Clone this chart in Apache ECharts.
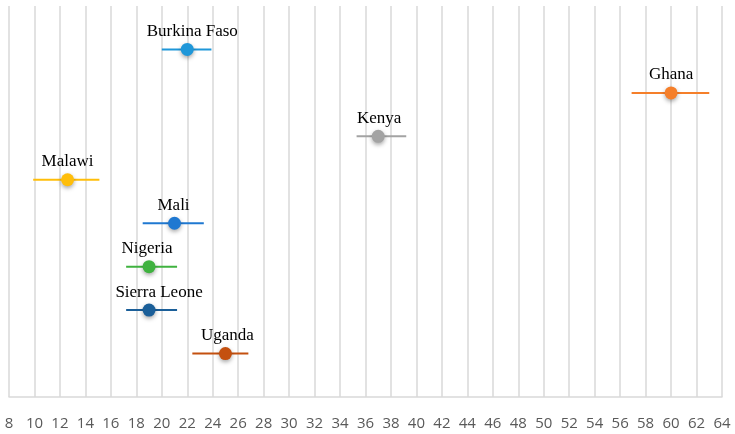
<!DOCTYPE html>
<html>
<head>
<meta charset="utf-8">
<script src="https://cdn.jsdelivr.net/npm/echarts@6/dist/echarts.min.js"></script>
<style>html,body{margin:0;padding:0;background:#fff;}#chart{width:735px;height:434px;}</style>
</head>
<body>
<div id="chart"></div>
<script>
const countries = ['Burkina Faso', 'Ghana', 'Kenya', 'Malawi', 'Mali', 'Nigeria', 'Sierra Leone', 'Uganda'];
const values = [22.0, 60.0, 37.0, 12.6, 21.0, 19.0, 19.0, 25.0];
const lows = [20.0, 56.9, 35.3, 9.9, 18.5, 17.2, 17.2, 22.4];
const highs = [23.9, 63.0, 39.2, 15.1, 23.3, 21.2, 21.2, 26.8];
const rows = [8, 7, 6, 5, 4, 3, 2, 1];
const xMin = 8, xMax = 64, xStep = 2;

const colors = ['#1f97d9', '#f57f2a', '#a3a3a3', '#ffbe0a', '#1f78d1', '#3fb23f', '#1b5f99', '#c4500f'];
const labelOffsets = [[5, 0], [0, 0], [1, 0], [0, 0], [-1, 0], [-2, 0], [10, 0], [2, 0]];

const series = [];
countries.forEach((c, i) => {
  series.push({
    type: 'line',
    name: c + ' CI',
    data: [[lows[i], rows[i]], [highs[i], rows[i]]],
    symbol: 'none',
    lineStyle: { color: colors[i], width: 2 },
    silent: true,
    z: 2
  });
});
countries.forEach((c, i) => {
  series.push({
    type: 'scatter',
    name: c,
    data: [[values[i], rows[i]]],
    symbol: 'circle',
    symbolSize: 13,
    itemStyle: {
      color: colors[i],
      opacity: 1,
      shadowBlur: 4,
      shadowColor: 'rgba(0,0,0,0.35)',
      shadowOffsetY: 2
    },
    label: {
      show: true,
      position: 'top',
      distance: 3,
      offset: labelOffsets[i],
      formatter: c,
      color: '#000',
      fontFamily: 'Liberation Serif',
      fontSize: 17
    },
    z: 3
  });
});

const chart = echarts.init(document.getElementById('chart'));
chart.setOption({
  animation: false,
  grid: { left: 9, right: 13, top: 6, bottom: 37, containLabel: false },
  xAxis: {
    type: 'value',
    min: xMin, max: xMax, interval: xStep,
    axisLine: { show: true, lineStyle: { color: '#d9d9d9', width: 1.5 } },
    axisTick: { show: false },
    axisLabel: { color: '#595959', fontFamily: 'Open Sans', fontSize: 15, margin: 19 },
    splitLine: { show: true, lineStyle: { color: '#d9d9d9', width: 1.5 } }
  },
  yAxis: {
    type: 'value', min: 0, max: 9,
    show: false
  },
  series: series
});
</script>
</body>
</html>
